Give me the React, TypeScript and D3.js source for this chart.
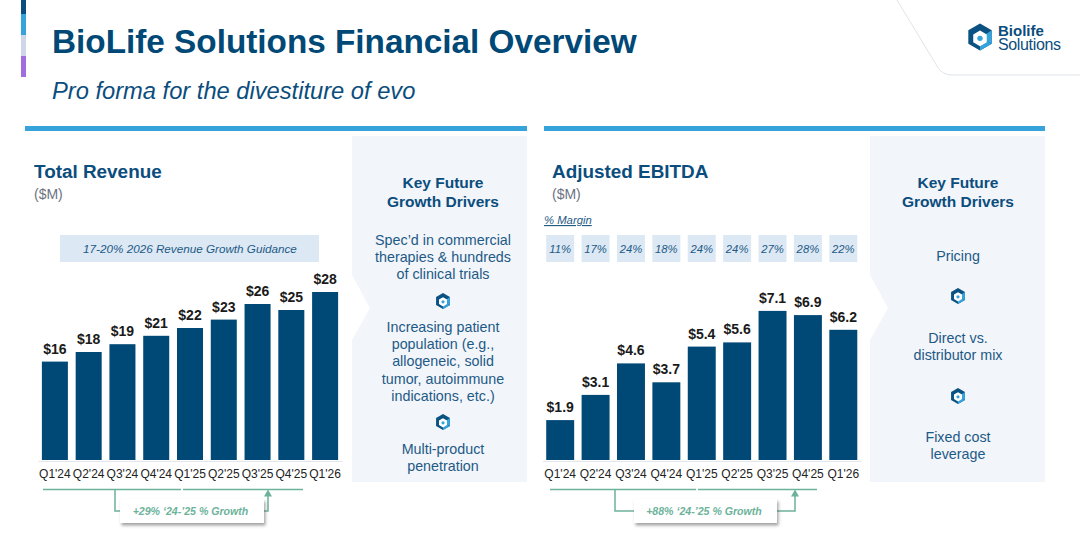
import { useEffect, useRef } from 'react';
import * as d3 from 'd3';

const quarters = ["Q1'24", "Q2'24", "Q3'24", "Q4'24", "Q1'25", "Q2'25", "Q3'25", "Q4'25", "Q1'26"];
const revenue = [16.4, 18, 19.3, 20.7, 22, 23.4, 26, 25, 28];
const ebitda = [1.9, 3.1, 4.6, 3.7, 5.4, 5.6, 7.1, 6.9, 6.2];
const margins = ['11%', '17%', '24%', '18%', '24%', '24%', '27%', '28%', '22%'];

const revenueDrivers = [
    { lines: ["Spec\u2019d in commercial", 'therapies & hundreds', 'of clinical trials'], y: 240 },
    { lines: ['Increasing patient', 'population (e.g.,', 'allogeneic, solid', 'tumor, autoimmune', 'indications, etc.)'], y: 327 },
    { lines: ['Multi-product', 'penetration'], y: 449 },
];
const ebitdaDrivers = [
    { lines: ['Pricing'], y: 256 },
    { lines: ['Direct vs.', 'distributor mix'], y: 338 },
    { lines: ['Fixed cost', 'leverage'], y: 437 },
];

const NAVY = '#004876';
const BLUE = '#36a3db';
const TEAL = '#6db39b';
const TEXT = '#1d5a86';
const FONT = '"Liberation Sans", Arial, sans-serif';

type Sel = d3.Selection<any, unknown, null, undefined>;

const label = (g: Sel, x: number, y: number, s: string, size: number, fill: string, extra: Record<string, string> = {}) => {
    const t = g.append('text').attr('x', x).attr('y', y).attr('font-size', size).attr('fill', fill).text(s);
    Object.entries(extra).forEach(([k, v]) => t.attr(k, v));
    return t;
};

const drawIcon = (g: Sel, cx: number, cy: number, r: number) => {
    const hex = d3.range(6).map(i => {
        const a = (Math.PI / 3) * i - Math.PI / 2;
        return [cx + r * Math.cos(a), cy + r * Math.sin(a)] as [number, number];
    });
    const line = d3.line();
    g.append('path').attr('d', line(hex) + 'Z').attr('fill', '#0b5283');
    g.append('path')
        .attr('d', line([[cx, cy + r * 0.1], hex[2], hex[3]]) + 'Z')
        .attr('fill', BLUE);
    g.append('path')
        .attr('d', line([[cx, cy + r * 0.1], hex[1], hex[2]]) + 'Z')
        .attr('fill', BLUE);
    const inner = d3.range(6).map(i => {
        const a = (Math.PI / 3) * i - Math.PI / 2;
        return [cx + r * 0.58 * Math.cos(a), cy + r * 0.1 + r * 0.58 * Math.sin(a)] as [number, number];
    });
    g.append('path').attr('d', line(inner) + 'Z').attr('fill', '#fff');
    g.append('circle').attr('cx', cx).attr('cy', cy + r * 0.1).attr('r', r * 0.2).attr('fill', BLUE);
};

const drawBars = (
    g: Sel, values: number[], range: [number, number], padding: number, pxPerUnit: number,
    fmt: (v: number) => string, labelSize: number,
) => {
    const baseY = 460;
    const x = d3.scaleBand<string>().domain(quarters).range(range).paddingInner(padding).paddingOuter(padding / 2);
    const y = d3.scaleLinear().domain([0, 30]).range([baseY, baseY - 30 * pxPerUnit]);

    g.selectAll('.bar').data(values).join('rect')
        .attr('class', 'bar')
        .attr('x', (_, i) => x(quarters[i])!)
        .attr('y', d => y(d))
        .attr('width', x.bandwidth())
        .attr('height', d => baseY - y(d))
        .attr('fill', NAVY);

    g.selectAll('.val').data(values).join('text')
        .attr('class', 'val')
        .attr('x', (_, i) => x(quarters[i])! + x.bandwidth() / 2)
        .attr('y', d => y(d) - 8)
        .attr('text-anchor', 'middle')
        .attr('font-size', labelSize)
        .attr('font-weight', 700)
        .attr('fill', '#1a1a1a')
        .text(d => fmt(d));

    const axis = g.append('g').attr('transform', `translate(0,${baseY + 1})`).call(d3.axisBottom(x).tickSize(0).tickPadding(8));
    axis.select('.domain').attr('stroke', '#e3e7ec');
    axis.selectAll('text').attr('font-size', 12).attr('font-family', FONT).attr('fill', '#222');
    return x;
};

const drawDrivers = (g: Sel, cx: number, titleY: number, drivers: { lines: string[]; y: number }[], icons: number[]) => {
    ['Key Future', 'Growth Drivers'].forEach((s, i) =>
        label(g, cx, titleY + i * 18.5, s, 15.5, '#0b4d7d', { 'text-anchor': 'middle', 'font-weight': '700' }));
    drivers.forEach(d => d.lines.forEach((s, i) =>
        label(g, cx, d.y + 5 + i * 17.2, s, 14.3, TEXT, { 'text-anchor': 'middle' })));
    icons.forEach(cy => drawIcon(g, cx, cy, 8));
};

const drawPanel = (g: Sel, x0: number) => {
    const [x1, y0, y1] = [x0 + 175, 136, 482];
    const outline: [number, number][] = [[x0, y0], [x1, y0], [x1, y1], [x0, y1], [x0, 340], [x0 + 18, 308], [x0, 275]];
    g.append('path').attr('d', d3.line()(outline) + 'Z').attr('fill', '#f2f5fa');
};

const drawGrowth = (g: Sel, segs: number[][], drop: number, box: number[], arrowX: number, s: string) => {
    const lineY = 489.5;
    const midY = 511;
    const stroke = { stroke: TEAL, 'stroke-width': '1.5', fill: 'none' };
    const path = (pts: [number, number][]) => {
        const p = g.append('path').attr('d', d3.line()(pts));
        Object.entries(stroke).forEach(([k, v]) => p.attr(k, v));
    };
    segs.forEach(([a, b]) => path([[a, lineY], [b, lineY]]));
    path([[drop, lineY], [drop, midY], [box[0], midY]]);
    path([[box[1], midY], [arrowX, midY], [arrowX, lineY + 6]]);
    g.append('path').attr('d', d3.line()([[arrowX - 4, lineY + 7], [arrowX + 4, lineY + 7], [arrowX, lineY]]) + 'Z').attr('fill', TEAL);
    g.append('rect').attr('x', box[0]).attr('y', 499).attr('width', box[1] - box[0]).attr('height', 24)
        .attr('fill', '#fff').attr('filter', 'url(#boxShadow)');
    label(g, (box[0] + box[1]) / 2 - 1.5, 515, s, 10.6, TEAL, { 'text-anchor': 'middle', 'font-style': 'italic', 'font-weight': '700' });
};

const App = () => {
    const svgRef = useRef<SVGSVGElement>(null);

    useEffect(() => {
        const svg = d3.select(svgRef.current) as unknown as Sel;
        svg.selectAll('*').remove();
        svg.attr('font-family', FONT);

        const filter = svg.append('defs').append('filter').attr('id', 'boxShadow')
            .attr('x', '-10%').attr('y', '-30%').attr('width', '125%').attr('height', '170%');
        filter.append('feDropShadow').attr('dx', 1.5).attr('dy', 2.5).attr('stdDeviation', 1.5)
            .attr('flood-color', '#555').attr('flood-opacity', 0.55);

        // header
        [['#0b4d7d', 0, 14], [BLUE, 14, 35], ['#cdd7e8', 35, 56], ['#a06ee0', 56, 77]].forEach(([c, a, b]) => {
            svg.append('rect').attr('x', 21).attr('y', a as number).attr('width', 5)
                .attr('height', (b as number) - (a as number)).attr('fill', c as string);
        });
        label(svg, 52, 53, 'BioLife Solutions Financial Overview', 33.3, '#004876', { 'font-weight': '700' });
        label(svg, 52, 99, 'Pro forma for the divestiture of evo', 23.7, '#0b4d7d', { 'font-style': 'italic' });

        // corner tab + logo
        svg.append('path').attr('d', 'M897,0 L937,66 Q942,75 952,75 L1080,75')
            .attr('fill', 'none').attr('stroke', '#dfe4ea').attr('stroke-width', 1);
        drawIcon(svg, 980, 37, 13.5);
        label(svg, 998, 35.5, 'Biolife', 15, '#0b4d7d', { 'font-weight': '700' });
        label(svg, 998, 50, 'Solutions', 16, '#0b4d7d', { 'letter-spacing': '-0.35' });

        svg.append('rect').attr('x', 25).attr('y', 126).attr('width', 502).attr('height', 5).attr('fill', BLUE);
        svg.append('rect').attr('x', 544).attr('y', 126).attr('width', 501).attr('height', 5).attr('fill', BLUE);

        drawPanel(svg, 352);
        drawPanel(svg, 870);

        // left chart
        label(svg, 34, 178, 'Total Revenue', 18.9, '#0b4d7d', { 'font-weight': '700' });
        label(svg, 34, 199, '($M)', 14, '#6b7280');
        svg.append('rect').attr('x', 60).attr('y', 235).attr('width', 259).attr('height', 27).attr('fill', '#dce8f4');
        label(svg, 190, 253, '17-20% 2026 Revenue Growth Guidance', 11.7, TEXT, { 'text-anchor': 'middle', 'font-style': 'italic' });
        drawBars(svg.append('g'), revenue, [38, 342], 0.23, 6, d3.format('$.0f'), 14);
        drawGrowth(svg, [[43, 181], [183, 303]], 115, [120, 264], 268, '+29% \u201824-\u201925 % Growth');
        drawDrivers(svg, 443, 188, revenueDrivers, [301, 422]);

        // right chart
        label(svg, 552, 178, 'Adjusted EBITDA', 18.9, '#0b4d7d', { 'font-weight': '700' });
        label(svg, 552, 199, '($M)', 14, '#6b7280');
        label(svg, 544, 224, '% Margin', 11.3, TEXT, { 'font-style': 'italic', 'text-decoration': 'underline' });
        const xr = drawBars(svg.append('g'), ebitda, [542.5, 861], 0.21, 21, d3.format('$.1f'), 14);
        svg.selectAll('.margin').data(margins).join('g').attr('class', 'margin').each(function (d, i) {
            const g = d3.select(this) as unknown as Sel;
            const x0 = xr(quarters[i])!;
            g.append('rect').attr('x', x0).attr('y', 235).attr('width', xr.bandwidth()).attr('height', 27).attr('fill', '#dce8f4');
            label(g, x0 + xr.bandwidth() / 2, 253, d as string, 11.3, TEXT, { 'text-anchor': 'middle', 'font-style': 'italic' });
        });
        drawGrowth(svg, [[550, 696], [698, 817]], 615, [634, 777], 795, '+88% \u201824-\u201925 % Growth');
        drawDrivers(svg, 958, 188, ebitdaDrivers, [296, 396]);
    }, []);

    return <svg ref={svgRef} width={1080} height={550} style={{ position: 'absolute', left: 0, top: 0, background: '#fff' }} />;
};

export default App;
